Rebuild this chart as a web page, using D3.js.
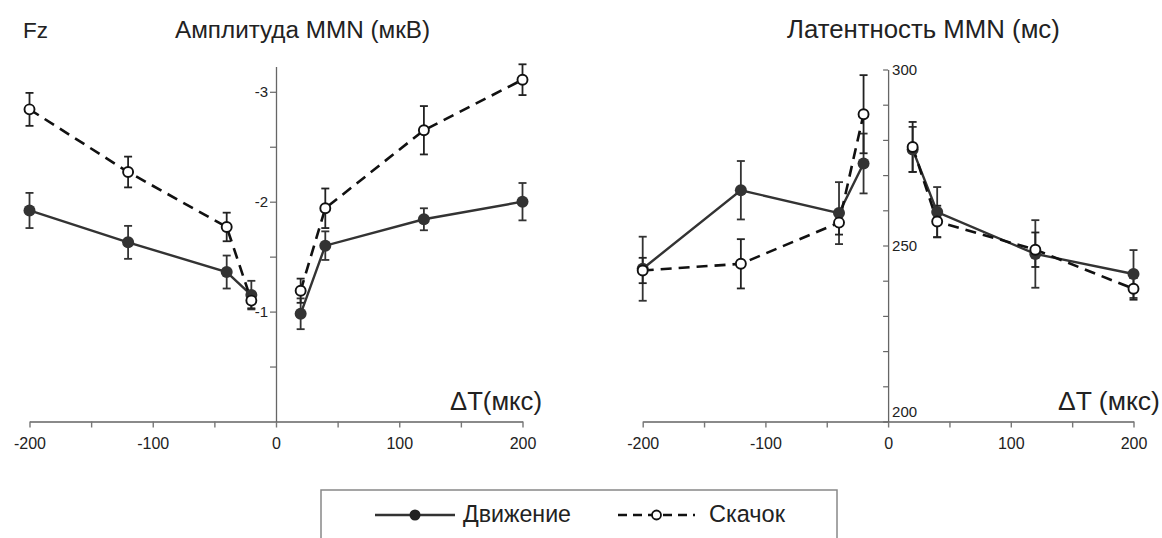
<!DOCTYPE html>
<html>
<head>
<meta charset="utf-8">
<script src="https://cdn.jsdelivr.net/npm/d3@7"></script>
<style>
  html, body { margin: 0; padding: 0; background: #fff; }
  svg { display: block; font-family: "Liberation Sans", Arial, sans-serif; }
</style>
</head>
<body>
<svg id="chart" width="1162" height="538"></svg>
<script>
// ---------- data ----------
const deltaT = [-200, -120, -40, -20, 20, 40, 120, 200];
const seriesNames = ["Движение", "Скачок"];

// Amplitude MMN (µV), Fz
const ampMove    = [-1.92, -1.63, -1.36, -1.15, -0.98, -1.60, -1.84, -2.00];
const ampMoveErr = [0.16, 0.15, 0.15, 0.13, 0.14, 0.13, 0.10, 0.17];
const ampJump    = [-2.84, -2.27, -1.77, -1.10, -1.19, -1.94, -2.65, -3.11];
const ampJumpErr = [0.15, 0.14, 0.13, 0.07, 0.11, 0.18, 0.22, 0.14];

// Latency MMN (ms)
const latMove    = [243.4, 265.7, 259.2, 273.3, 277.3, 259.5, 247.6, 241.9];
const latMoveErr = [9.1, 8.3, 8.8, 8.5, 6.4, 7.1, 9.6, 6.8];
const latJump    = [242.9, 244.8, 256.5, 287.3, 278.0, 256.8, 248.8, 237.7];
const latJumpErr = [3.6, 7.0, 3.4, 11.1, 7.1, 4.5, 4.9, 3.1];

const xTicks = [-200, -150, -100, -50, 0, 50, 100, 150, 200];
const xTickLabels = [-200, -100, 0, 100, 200];
const ampTicks = [-3, -2.5, -2, -1.5, -1, -0.5];
const ampTickLabels = [-3, -2, -1];
const latTicks = [200, 210, 220, 230, 240, 250, 260, 270, 280, 290, 300];
const latTickLabels = [200, 250, 300];

const titleFz = "Fz";
const titleAmp = "Амплитуда MMN (мкВ)";
const titleLat = "Латентность MMN (мс)";
const xLabelAmp = "ΔT(мкс)";
const xLabelLat = "ΔT (мкс)";

// ---------- setup ----------
const svg = d3.select("#chart");
const axisY = 421.5;

const xL = d3.scaleLinear().domain([-200, 200]).range([29.5, 522.5]);
const yL = d3.scaleLinear().domain([0, -3.23]).range([axisY, 66.5]);
const xR = d3.scaleLinear().domain([-200, 200]).range([642.7, 1133.5]);
const yR = d3.scaleLinear().domain([200, 300]).range([axisY, 69.5]);

const C_SOLID = "#333";
const C_DASH = "#111";
const fmt = d => String(d);

function fitText(sel, target) {
  const n = sel.node();
  const w = n.getComputedTextLength();
  const fs = parseFloat(sel.attr("font-size"));
  sel.attr("font-size", (fs * target / w).toFixed(2));
  return sel;
}

function drawXAxis(x) {
  const g = svg.append("g").attr("transform", `translate(0,${axisY})`)
    .call(d3.axisBottom(x).tickValues(xTicks).tickSizeInner(6).tickSizeOuter(0).tickPadding(10)
      .tickFormat(d => xTickLabels.includes(d) ? fmt(d) : ""));
  g.select(".domain").attr("stroke", "#8a8a8a").attr("stroke-width", 2);
  g.selectAll(".tick line").attr("stroke", "#777").attr("stroke-width", 1.4);
  g.selectAll(".tick text").attr("font-size", 16).attr("fill", "#222")
    .attr("font-family", "Liberation Sans, Arial, sans-serif");
  return g;
}

function drawPanel(x, y, move, moveErr, jump, jumpErr) {
  const groups = [deltaT.map((d, i) => i).filter(i => deltaT[i] < 0),
                  deltaT.map((d, i) => i).filter(i => deltaT[i] > 0)];
  const series = [
    { v: move, e: moveErr, filled: true },
    { v: jump, e: jumpErr, filled: false }
  ];
  // error bars
  series.forEach(s => {
    const g = svg.append("g").attr("stroke", s.filled ? "#333" : "#222").attr("stroke-width", 1.8).attr("fill", "none");
    deltaT.forEach((dt, i) => {
      const cx = x(dt), y1 = y(s.v[i] - s.e[i]), y2 = y(s.v[i] + s.e[i]);
      g.append("line").attr("x1", cx).attr("x2", cx).attr("y1", y1).attr("y2", y2);
      g.append("line").attr("x1", cx - 4).attr("x2", cx + 4).attr("y1", y1).attr("y2", y1);
      g.append("line").attr("x1", cx - 4).attr("x2", cx + 4).attr("y1", y2).attr("y2", y2);
    });
  });
  // lines
  series.forEach(s => {
    const ln = d3.line().x(i => x(deltaT[i])).y(i => y(s.v[i]));
    groups.forEach(gr => {
      svg.append("path").attr("d", ln(gr)).attr("fill", "none")
        .attr("stroke", s.filled ? C_SOLID : C_DASH)
        .attr("stroke-width", s.filled ? 2.4 : 2.6)
        .attr("stroke-dasharray", s.filled ? null : "11,7");
    });
  });
  // markers
  series.forEach(s => {
    svg.append("g").selectAll("circle").data(deltaT).join("circle")
      .attr("cx", d => x(d)).attr("cy", (d, i) => y(s.v[i]))
      .attr("r", s.filled ? 6 : 5)
      .attr("fill", s.filled ? "#333" : "#fff")
      .attr("stroke", s.filled ? "#333" : "#111")
      .attr("stroke-width", s.filled ? 0 : 1.9);
  });
}

// ---------- left panel ----------
drawXAxis(xL);
{
  const g = svg.append("g").attr("transform", `translate(${xL(0)},0)`)
    .call(d3.axisLeft(yL).tickValues(ampTicks).tickSizeInner(6).tickSizeOuter(0).tickPadding(2)
      .tickFormat(d => ampTickLabels.includes(d) ? fmt(d) : ""));
  g.select(".domain").attr("stroke", "#666").attr("stroke-width", 1.3);
  g.selectAll(".tick line").attr("stroke", "#666").attr("stroke-width", 1.2);
  g.selectAll(".tick text").attr("font-size", 15).attr("fill", "#222")
    .attr("font-family", "Liberation Sans, Arial, sans-serif");
}
drawPanel(xL, yL, ampMove, ampMoveErr, ampJump, ampJumpErr);

// ---------- right panel ----------
drawXAxis(xR);
{
  const g = svg.append("g").attr("transform", `translate(${xR(0)},0)`)
    .call(d3.axisRight(yR).tickValues(latTicks).tickSizeInner(-5).tickSizeOuter(0).tickPadding(4)
      .tickFormat(d => latTickLabels.includes(d) ? fmt(d) : ""));
  g.select(".domain").attr("stroke", "#666").attr("stroke-width", 1.3);
  g.selectAll(".tick line").attr("stroke", "#666").attr("stroke-width", 1.2);
  g.selectAll(".tick text").attr("font-size", 15).attr("fill", "#222")
    .attr("font-family", "Liberation Sans, Arial, sans-serif")
    .attr("dy", d => d === 200 ? "-0.35em" : "0.32em");
}
drawPanel(xR, yR, latMove, latMoveErr, latJump, latJumpErr);

// ---------- titles ----------
fitText(svg.append("text").attr("x", 23).attr("y", 38).attr("font-size", 20).attr("fill", "#222").text(titleFz), 25);
fitText(svg.append("text").attr("x", 175).attr("y", 38).attr("font-size", 20).attr("fill", "#222").text(titleAmp), 255);
fitText(svg.append("text").attr("x", 787).attr("y", 38).attr("font-size", 20).attr("fill", "#222").text(titleLat), 273);

fitText(svg.append("text").attr("x", 450).attr("y", 410).attr("font-size", 24).attr("fill", "#222").text(xLabelAmp), 92);
fitText(svg.append("text").attr("x", 1058).attr("y", 410).attr("font-size", 24).attr("fill", "#222").text(xLabelLat), 102);

// ---------- legend ----------
{
  const lg = svg.append("g");
  lg.append("rect").attr("x", 321).attr("y", 490).attr("width", 516).attr("height", 70)
    .attr("fill", "#fff").attr("stroke", "#888").attr("stroke-width", 1.5);
  const items = [
    { name: seriesNames[0], filled: true, x0: 375, x1: 455, tx: 463, w: 108 },
    { name: seriesNames[1], filled: false, x0: 618, x1: 695, tx: 709, w: 76 }
  ];
  items.forEach(it => {
    const ly = 515;
    lg.append("line").attr("x1", it.x0).attr("x2", it.x1).attr("y1", ly).attr("y2", ly)
      .attr("stroke", it.filled ? C_SOLID : C_DASH).attr("stroke-width", it.filled ? 2.4 : 2.6)
      .attr("stroke-dasharray", it.filled ? null : "9,6");
    lg.append("circle").attr("cx", (it.x0 + it.x1) / 2).attr("cy", ly)
      .attr("r", it.filled ? 5.5 : 4.5)
      .attr("fill", it.filled ? "#222" : "#fff").attr("stroke", "#111").attr("stroke-width", it.filled ? 0 : 1.8);
    fitText(lg.append("text").attr("x", it.tx).attr("y", ly + 7).attr("font-size", 21).attr("fill", "#222").text(it.name), it.w);
  });
}
</script>
</body>
</html>
